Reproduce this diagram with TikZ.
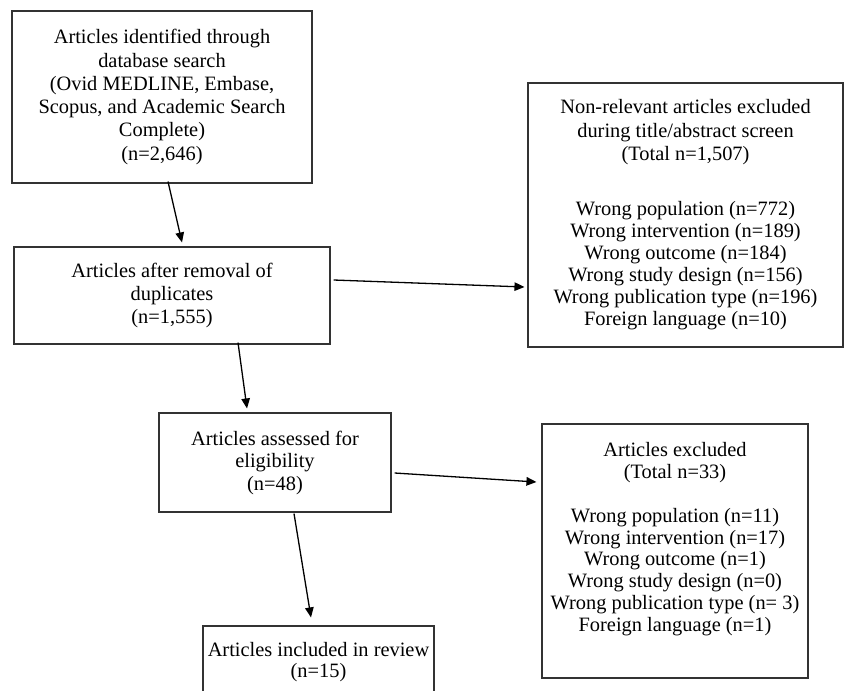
\documentclass[tikz,border=0pt]{standalone}
\usepackage{fontspec}
\setmainfont{Liberation Serif}
\usetikzlibrary{arrows.meta}
\begin{document}
\begin{tikzpicture}[x=1pt,y=-1pt,
  box/.style={draw=black!80,line width=1.1pt,inner sep=0pt,align=center,
    font=\fontsize{20.4}{23.3}\selectfont,text=black},
  arr/.style={line width=1.3pt,-{Triangle[length=10pt,width=8.5pt]}}]
\useasboundingbox (0,0) rectangle (844,691);
\clip (0,0) rectangle (844,691);
\node[box,minimum width=300pt,minimum height=172pt] (b1) at (162,97)
  {Articles identified through\\database search\\(Ovid MEDLINE, Embase,\\Scopus, and Academic Search\\Complete)\\(n=2,646)};
\node[box,minimum width=316pt,minimum height=97pt] (b2) at (172,295.5)
  {Articles after removal of\\duplicates\\(n=1,555)};
\node[box,minimum width=315pt,minimum height=264pt] (b3) at (685.5,215)
  {Non-relevant articles excluded\\during title/abstract screen\\(Total n=1,507)\\[32pt]
   Wrong population (n=772)\\[-1.3pt]Wrong intervention (n=189)\\[-1.3pt]Wrong outcome (n=184)\\[-1.3pt]Wrong study design (n=156)\\[-1.3pt]Wrong publication type (n=196)\\[-1.3pt]Foreign language (n=10)};
\node[box,minimum width=232pt,minimum height=99pt,font=\fontsize{20.4}{22.5}\selectfont] (b4) at (275,462.5)
  {Articles assessed for\\eligibility\\(n=48)};
\node[box,minimum width=266pt,minimum height=254pt,font=\fontsize{20.4}{21.8}\selectfont] (b5) at (675,551)
  {Articles excluded\\(Total n=33)\\~\\Wrong population (n=11)\\Wrong intervention (n=17)\\Wrong outcome (n=1)\\Wrong study design (n=0)\\Wrong publication type (n= 3)\\Foreign language (n=1)\\[6pt]~};
\node[box,minimum width=231pt,minimum height=72pt,font=\fontsize{20.4}{21.8}\selectfont] (b6) at (318.5,662)
  {Articles included in review\\(n=15)};
\draw[arr] ([xshift=6pt,yshift=2pt]b1.south) -- ([xshift=10pt,yshift=4pt]b2.north);
\draw[arr] ([xshift=3pt,yshift=15.5pt]b2.east) -- ([xshift=-3pt,yshift=-72pt]b3.west);
\draw[arr] ([xshift=66pt,yshift=2pt]b2.south) -- ([xshift=-28pt,yshift=4pt]b4.north);
\draw[arr] ([xshift=3pt,yshift=-10.5pt]b4.east) -- ([xshift=-5pt,yshift=69pt]b5.west);
\draw[arr] ([xshift=19pt,yshift=-1pt]b4.south) -- ([xshift=-7.5pt,yshift=8pt]b6.north);
\end{tikzpicture}
\end{document}
